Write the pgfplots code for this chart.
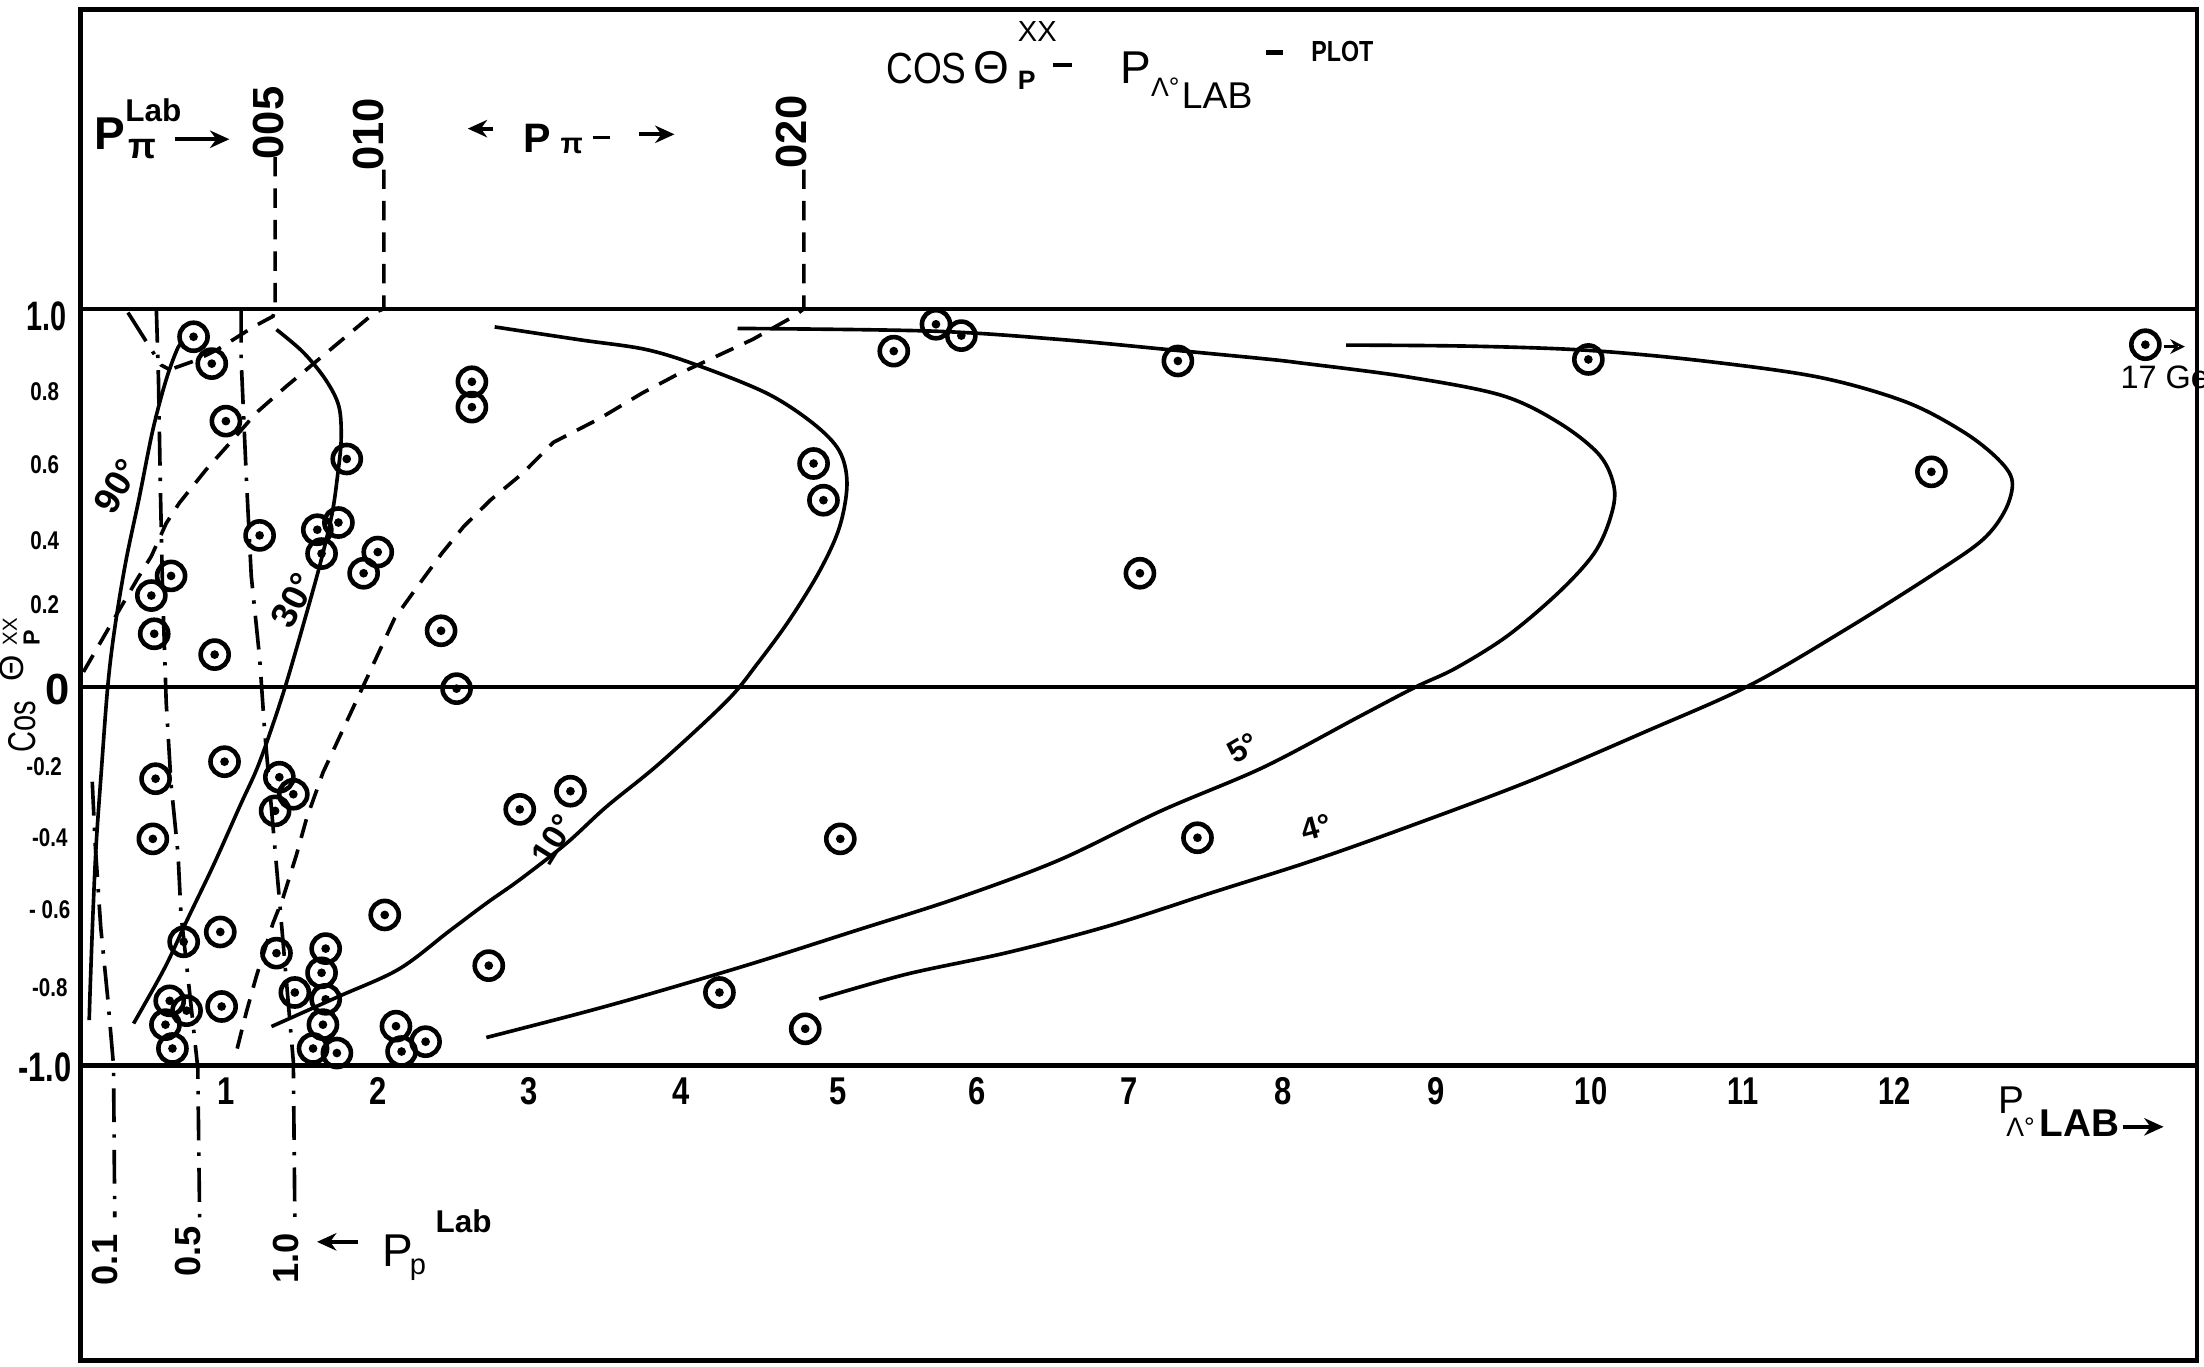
\documentclass[border=0pt]{standalone}
\usepackage{fontspec}
\setmainfont{Liberation Sans}
\usepackage{graphicx}
\usepackage{pgfplots}
\usepackage{pgfplotstable}
\pgfplotsset{compat=1.18}
\usetikzlibrary{arrows.meta}
\newcommand\fz[1]{\fontsize{#1}{#1}\selectfont}
\newcommand\sx[2]{\scalebox{#1}[1]{#2}}
\pgfdeclareplotmark{cdot}{%
 \pgfpathcircle{\pgfpointorigin}{2.9pt}\pgfusepathqstroke
 \pgfpathcircle{\pgfpointorigin}{0.9pt}\pgfusepathqfill}
\tikzset{
 kin/.style={line width=0.75pt, smooth, tension=0.55},
 pidash/.style={line width=0.75pt, dash pattern=on 4pt off 2.5pt},
 pdash/.style={line width=0.75pt, dash pattern=on 7pt off 2.5pt on 0.7pt off 2.5pt},
 arr/.style={line width=0.8pt, -{Stealth[length=4pt,width=3.6pt]}},
 lab/.style={inner sep=0pt}
}
\pgfplotstableread{
x y
0.787 0.926
0.907 0.855
1.000 0.703
1.796 0.603
1.222 0.401
1.602 0.416
1.741 0.435
1.630 0.353
1.907 0.301
2.000 0.357
0.639 0.294
0.509 0.242
0.528 0.141
0.926 0.086
2.417 0.149
2.519 -0.004
2.620 0.807
2.620 0.740
0.991 -0.197
0.537 -0.242
1.352 -0.238
1.324 -0.327
1.444 -0.283
0.519 -0.401
2.935 -0.323
3.269 -0.275
2.046 -0.602
0.722 -0.673
0.963 -0.647
1.333 -0.703
1.657 -0.691
1.630 -0.755
2.731 -0.736
1.454 -0.807
1.657 -0.825
0.630 -0.829
0.972 -0.844
0.741 -0.855
0.602 -0.892
1.639 -0.892
1.574 -0.955
1.731 -0.967
0.648 -0.955
2.120 -0.896
2.157 -0.963
2.315 -0.937
4.250 -0.807
4.815 -0.903
5.046 -0.401
4.870 0.591
4.935 0.494
5.398 0.888
5.676 0.959
5.843 0.929
7.269 0.862
7.019 0.301
7.398 -0.398
9.972 0.866
12.231 0.569
13.640 0.905
}\pts
\begin{document}
\begin{tikzpicture}
\begin{axis}[name=ax, scale only axis, width=15.367cm, height=9.806cm,
 xmin=0.04, xmax=13.98, ymin=-1.78, ymax=1.79, xtick=\empty, ytick=\empty,
 axis line style={line width=1pt}, clip=false,
 every axis plot/.append style={black}]
% reference lines
\addplot[line width=0.85pt] coordinates {(0.04,1) (13.98,1)};
\addplot[line width=0.85pt] coordinates {(0.04,0) (13.98,0)};
\addplot[line width=0.85pt] coordinates {(0.04,-1) (13.98,-1)};
% kinematic curves
\addplot[kin] coordinates {(0.100,-0.88) (0.106,-0.80) (0.124,-0.604) (0.146,-0.415) (0.179,-0.226) (0.222,0.002) (0.267,0.153) (0.340,0.33) (0.431,0.504) (0.519,0.680) (0.607,0.813) (0.684,0.897) (0.72,0.91)};
\addplot[kin] coordinates {(1.333,0.945) (1.509,0.885) (1.656,0.813) (1.744,0.742) (1.759,0.654) (1.735,0.558) (1.700,0.460) (1.630,0.340) (1.545,0.215) (1.405,0.02) (1.305,-0.104) (1.205,-0.215) (1.097,-0.310) (0.921,-0.468) (0.744,-0.616) (0.597,-0.742) (0.392,-0.889)};
\addplot[kin] coordinates {(2.77,0.952) (3.33,0.918) (3.77,0.892) (4.13,0.847) (4.57,0.775) (4.87,0.696) (5.04,0.624) (5.09,0.537) (5.04,0.422) (4.91,0.307) (4.71,0.177) (4.50,0.062) (4.30,-0.036) (3.857,-0.201) (3.506,-0.316) (3.242,-0.413) (2.935,-0.509) (2.716,-0.571) (2.47,-0.645) (2.14,-0.745) (1.74,-0.818) (1.30,-0.897)};
\addplot[kin] coordinates {(4.369,0.948) (5.646,0.941) (6.487,0.919) (7.259,0.890) (7.831,0.868) (8.073,0.857) (8.78,0.820) (9.402,0.771) (9.781,0.698) (10.048,0.612) (10.143,0.525) (10.115,0.445) (10.009,0.353) (9.781,0.252) (9.441,0.136) (9.098,0.050) (8.833,0.0) (8.453,-0.080) (7.831,-0.212) (7.158,-0.327) (6.487,-0.457) (5.814,-0.558) (5.143,-0.644) (4.470,-0.730) (3.798,-0.810) (3.332,-0.862) (2.715,-0.926)};
\addplot[kin] coordinates {(8.377,0.904) (9.213,0.901) (9.972,0.890) (10.731,0.862) (11.491,0.819) (12.061,0.754) (12.440,0.675) (12.669,0.603) (12.763,0.545) (12.72,0.47) (12.57,0.39) (12.25,0.30) (11.681,0.156) (11.035,0.005) (10.352,-0.117) (9.593,-0.247) (8.833,-0.362) (8.167,-0.457) (7.494,-0.543) (6.822,-0.630) (6.151,-0.701) (5.478,-0.759) (4.907,-0.824)};
% pion momentum lines (dashed)
\addplot[pidash] coordinates {(1.324,1.401) (1.324,1.0) (1.31,0.98) (1.189,0.954) (1.09,0.929) (0.944,0.892) (0.805,0.864) (0.63,0.839)};
\addplot[pdash] coordinates {(0.355,0.99) (0.574,0.851) (0.63,0.839)};
\addplot[pidash] coordinates {(2.04,1.368) (2.04,1.0) (1.98,0.99) (1.661,0.883) (1.398,0.795) (1.20,0.725) (1.046,0.654) (0.870,0.575) (0.694,0.487) (0.607,0.433) (0.509,0.346) (0.417,0.286) (0.234,0.16) (0.047,0.03)};
\addplot[pidash] coordinates {(4.806,1.368) (4.806,1.0) (4.74,0.98) (4.469,0.919) (3.966,0.825) (3.741,0.777) (3.462,0.710) (3.157,0.647) (2.954,0.565) (2.741,0.494) (2.565,0.424) (2.421,0.353) (2.278,0.275) (2.111,0.182) (1.946,0.039) (1.771,-0.112) (1.639,-0.226) (1.530,-0.349) (1.464,-0.444) (1.376,-0.557) (1.310,-0.624) (1.200,-0.765) (1.134,-0.860) (1.069,-0.964)};
% proton momentum lines (dash-dot)
\addplot[pdash] coordinates {(1.10,1.0) (1.10,0.87) (1.135,0.55) (1.167,0.294) (1.222,0.078) (1.255,-0.115) (1.352,-0.56) (1.444,-0.989) (1.454,-1.40)};
\addplot[pdash] coordinates {(0.542,1.0) (0.556,0.814) (0.569,0.517) (0.583,0.257) (0.607,-0.041) (0.639,-0.257) (0.685,-0.442) (0.704,-0.599) (0.759,-0.799) (0.815,-1.007) (0.827,-1.401)};
\addplot[pdash] coordinates {(0.12,-0.25) (0.139,-0.413) (0.176,-0.636) (0.222,-0.822) (0.26,-1.0) (0.268,-1.401)};
% events
\addplot[only marks, mark=cdot, mark options={draw=black, fill=black, line width=0.95pt}] table {\pts};
% 17 GeV annotation
\draw[line width=0.5pt, -{Stealth[length=3pt,width=3pt,open]}] (axis cs:13.76,0.90) -- (axis cs:13.90,0.90);
\node[lab, anchor=west] at (axis cs:13.47,0.818) {\fz{6.7}17 Gev};
% y-axis numbers
\node[lab, anchor=east] at (axis cs:-0.046,0.981) {\fz{8.5}\bfseries\sx{0.7}{1.0}};
\node[lab, anchor=east] at (axis cs:-0.019,-0.007) {\fz{9}\bfseries 0};
\node[lab, anchor=east] at (axis cs:-0.009,-1.004) {\fz{8.5}\bfseries\sx{0.75}{-1.0}};
\node[lab, anchor=east] at (axis cs:-0.093,0.782) {\fz{5.3}\bfseries\sx{0.8}{0.8}};
\node[lab, anchor=east] at (axis cs:-0.093,0.587) {\fz{5.3}\bfseries\sx{0.8}{0.6}};
\node[lab, anchor=east] at (axis cs:-0.093,0.387) {\fz{5.3}\bfseries\sx{0.8}{0.4}};
\node[lab, anchor=east] at (axis cs:-0.093,0.217) {\fz{5.3}\bfseries\sx{0.8}{0.2}};
\node[lab, anchor=east] at (axis cs:-0.074,-0.209) {\fz{5.3}\bfseries\sx{0.8}{-0.2}};
\node[lab, anchor=east] at (axis cs:-0.037,-0.398) {\fz{5.3}\bfseries\sx{0.8}{-0.4}};
\node[lab, anchor=east] at (axis cs:-0.019,-0.589) {\fz{5.3}\bfseries\sx{0.8}{- 0.6}};
\node[lab, anchor=east] at (axis cs:-0.037,-0.794) {\fz{5.3}\bfseries\sx{0.8}{-0.8}};
% y label
\node[lab, rotate=90, anchor=base west] at (axis cs:-0.255,-0.175) {\sx{0.75}{\fz{8}Cos}\hspace{4pt}\raisebox{2.4pt}{\fz{7}Θ}\hspace{2pt}\rlap{\raisebox{3.8pt}{\fz{4.2}XX}}\raisebox{-0.9pt}{\fz{4.8}\bfseries P}};
% x-axis numbers
\node[lab] at (axis cs:1,-1.068) {\fz{8}\bfseries\sx{0.8}{1}};
\node[lab] at (axis cs:2,-1.068) {\fz{8}\bfseries\sx{0.8}{2}};
\node[lab] at (axis cs:3,-1.068) {\fz{8}\bfseries\sx{0.8}{3}};
\node[lab] at (axis cs:4,-1.068) {\fz{8}\bfseries\sx{0.8}{4}};
\node[lab] at (axis cs:5.03,-1.068) {\fz{8}\bfseries\sx{0.8}{5}};
\node[lab] at (axis cs:5.95,-1.068) {\fz{8}\bfseries\sx{0.8}{6}};
\node[lab] at (axis cs:6.95,-1.068) {\fz{8}\bfseries\sx{0.8}{7}};
\node[lab] at (axis cs:7.96,-1.068) {\fz{8}\bfseries\sx{0.8}{8}};
\node[lab] at (axis cs:8.97,-1.068) {\fz{8}\bfseries\sx{0.8}{9}};
\node[lab] at (axis cs:9.99,-1.068) {\fz{8}\bfseries\sx{0.75}{10}};
\node[lab] at (axis cs:10.99,-1.068) {\fz{8}\bfseries\sx{0.75}{11}};
\node[lab] at (axis cs:11.99,-1.068) {\fz{8}\bfseries\sx{0.75}{12}};
% x label
\node[lab, anchor=base west] at (axis cs:12.667,-1.126) {\rlap{\fz{8}P}\hspace{1.6pt}\raisebox{-4.9pt}{\fz{5.5}Λ°\hspace{1pt}\fz{8}\bfseries LAB}};
\draw[arr] (axis cs:13.49,-1.162) -- (axis cs:13.76,-1.162);
% title
\node[lab, anchor=base west] at (axis cs:5.343,1.595) {\fz{9}\sx{0.85}{COS}\hspace{1.5pt}{\fz{9.5}Θ}\hspace{1.7pt}\rlap{\raisebox{8.7pt}{\fz{6}XX}}\raisebox{-1.2pt}{\fz{5.5}\bfseries P}\hspace{3.6pt}\rule[3.4pt]{4pt}{0.9pt}\hspace{9.9pt}{\fz{9.5}P}\raisebox{-2.6pt}{\fz{5.5}Λ°}\hspace{0.5pt}\raisebox{-5.2pt}{\fz{7.7}LAB}\hspace{2.9pt}\rule[6pt]{3.5pt}{0.9pt}\hspace{5.8pt}\raisebox{4.6pt}{\fz{6}\bfseries\sx{0.8}{PLOT}}};
% pion momentum labels
\node[lab, anchor=base west] at (axis cs:0.13,1.42) {\fz{9.5}\bfseries P\rlap{\raisebox{5.8pt}{\fz{6.5}\bfseries Lab}}\hspace{0.6pt}\raisebox{-1.7pt}{\fz{7.5}\bfseries π}};
\draw[arr] (axis cs:0.662,1.448) -- (axis cs:1.023,1.448);
\node[lab, rotate=90] at (axis cs:1.278,1.491) {\fz{9}\bfseries 005};
\node[lab, rotate=90] at (axis cs:1.94,1.461) {\fz{9}\bfseries 010};
\node[lab, rotate=90] at (axis cs:4.727,1.467) {\fz{9}\bfseries 020};
\draw[arr] (axis cs:2.759,1.476) -- (axis cs:2.593,1.476);
\node[lab, anchor=base west] at (axis cs:2.954,1.413) {\fz{8.5}\bfseries P\hspace{2pt}\raisebox{-0.3pt}{\fz{6}\bfseries π}\hspace{2pt}\rule[2.7pt]{3.5pt}{0.8pt}};
\draw[arr] (axis cs:3.722,1.461) -- (axis cs:3.954,1.461);
% proton momentum labels
\node[lab, rotate=90] at (axis cs:0.201,-1.514) {\fz{7.5}\bfseries 0.1};
\node[lab, rotate=90] at (axis cs:0.75,-1.491) {\fz{7.5}\bfseries 0.5};
\node[lab, rotate=90] at (axis cs:1.398,-1.509) {\fz{7.5}\bfseries 1.0};
\draw[arr] (axis cs:1.87,-1.466) -- (axis cs:1.60,-1.466);
\node[lab, anchor=base west] at (axis cs:2.028,-1.532) {\fz{9.5}P\hspace{-0.8pt}\raisebox{-1.5pt}{\fz{6}p}\hspace{2pt}\raisebox{7.1pt}{\fz{6.5}\bfseries Lab}};
% angle labels
\node[lab, rotate=59] at (axis cs:0.283,0.531) {\fz{7.5}\bfseries 90°};
\node[lab, rotate=63] at (axis cs:1.444,0.230) {\fz{7.5}\bfseries 30°};
\node[lab, rotate=58] at (axis cs:3.154,-0.404) {\fz{7}\bfseries 10°};
\node[lab, rotate=30] at (axis cs:7.70,-0.161) {\fz{6.5}\bfseries 5°};
\node[lab, rotate=15] at (axis cs:8.18,-0.37) {\fz{6.5}\bfseries 4°};
\end{axis}
\pgfresetboundingbox
\path[use as bounding box] ([xshift=-0.5816cm,yshift=-0.0408cm]ax.south west) rectangle ([xshift=0.051cm,yshift=0.0714cm]ax.north east);
\end{tikzpicture}
\end{document}
